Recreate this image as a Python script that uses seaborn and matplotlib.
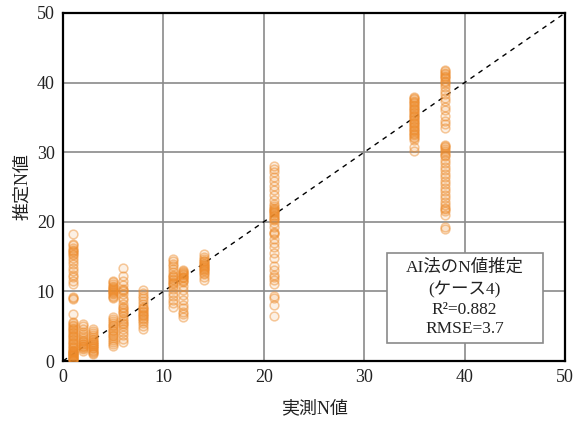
import matplotlib
matplotlib.use("Agg")
import matplotlib.pyplot as plt
import seaborn as sns
import pandas as pd
from matplotlib.patches import Rectangle

# measured N value groups and the estimated N values for each
n1 = [0.1, 0.2, 0.3, 0.4, 0.5, 0.6, 0.7, 0.8, 0.9, 1.0, 1.1, 1.2, 1.3, 1.4, 1.5, 1.6, 1.8, 2.0, 2.2, 2.4,
      2.6, 2.8, 3.0, 3.2, 3.4, 3.6, 3.8, 4.0, 4.2, 4.4, 4.6, 4.8, 5.0, 5.2, 5.4, 5.6, 6.8, 8.9, 9.1, 9.2,
      11.0, 11.5, 12.0, 12.4, 12.9, 13.4, 13.9, 14.3, 14.8, 15.2, 15.4, 15.6, 15.8, 16.0, 16.3, 16.6, 16.8,
      18.2]
n2 = [1.5, 1.7, 1.8, 2.0, 2.1, 2.2, 2.4, 2.5, 2.7, 2.9, 3.0, 3.3, 3.6, 3.9, 4.2, 4.6, 5.0, 5.3]
n3 = [1.0, 1.2, 1.3, 1.5, 1.6, 1.8, 1.9, 2.1, 2.2, 2.4, 2.5, 2.7, 2.8, 3.0, 3.1, 3.4, 3.7, 4.0, 4.3, 4.6]
n5 = [2.1, 2.4, 2.7, 3.0, 3.3, 3.6, 3.8, 4.0, 4.3, 4.5, 4.7, 5.0, 5.2, 5.4, 5.7, 6.0, 6.3, 9.0, 9.2,
      9.4, 9.6, 9.8, 9.9, 10.0, 10.2, 10.3, 10.5, 10.6, 10.8, 11.1, 11.3, 11.5]
n6 = [2.8, 3.2, 3.7, 4.1, 4.6, 5.0, 5.3, 5.5, 5.8, 6.0, 6.4, 6.9, 7.1, 7.3, 7.6, 7.8, 8.2, 8.7, 9.1, 9.6,
      10.0, 10.2, 10.4, 10.9, 11.5, 12.2, 13.4]
n8 = [4.6, 5.0, 5.4, 5.8, 6.0, 6.2, 6.4, 6.6, 6.8, 7.0, 7.2, 7.4, 7.6, 7.8, 8.2, 8.6, 9.0, 9.4, 9.8, 10.2]
n11 = [7.8, 8.3, 8.8, 9.3, 9.8, 10.3, 10.8, 11.0, 11.2, 11.4, 11.6, 11.8, 12.0, 12.2, 12.4, 12.8, 13.2,
       13.6, 14.0, 14.4, 14.7]
n12 = [6.3, 6.7, 7.1, 7.6, 8.0, 8.8, 9.5, 10.2, 10.8, 11.3, 11.5, 11.7, 11.9, 12.0, 12.1, 12.3, 12.5,
       12.6, 12.8, 12.9, 13.1]
n14 = [11.7, 12.1, 12.5, 12.7, 12.9, 13.1, 13.2, 13.4, 13.5, 13.7, 13.8, 14.0, 14.1, 14.3, 14.4, 14.7,
       15.0, 15.4]
n21 = [6.4, 8.0, 9.0, 9.3, 11.0, 11.6, 12.0, 12.4, 13.1, 13.6, 14.8, 15.5, 16.4, 17.0, 17.6, 18.2, 18.4,
       18.6, 19.2, 19.8, 20.2, 20.4, 20.6, 20.8, 21.0, 21.2, 21.4, 21.5, 21.7, 21.8, 22.0, 22.2, 22.6, 23.2,
       23.8, 24.5, 25.2, 25.8, 26.5, 27.2, 27.6, 28.0]
n35 = [30.2, 30.8, 31.8, 32.0, 32.2, 32.4, 32.6, 32.8, 33.0, 33.2, 33.4, 33.6, 33.8, 34.0, 34.2, 34.4,
       34.6, 34.8, 35.0, 35.2, 35.4, 35.6, 35.8, 36.0, 36.2, 36.4, 36.6, 36.8, 37.0, 37.2, 37.4, 37.6, 37.8,
       38.0]
n38 = [19.0, 19.2, 21.0, 21.5, 21.8, 22.0, 22.4, 22.9, 23.4, 23.9, 24.4, 24.9, 25.4, 25.9, 26.4, 26.9,
       27.4, 27.9, 28.4, 28.9, 29.4, 29.6, 29.9, 30.2, 30.4, 30.7, 30.9, 31.1, 33.5, 34.0, 34.5, 35.2, 36.0,
       36.5, 37.3, 37.8, 38.3, 38.8, 39.3, 39.8, 40.1, 40.3, 40.6, 40.8, 41.0, 41.2, 41.4, 41.6, 41.8]

groups = {1: n1, 2: n2, 3: n3, 5: n5, 6: n6, 8: n8, 11: n11, 12: n12, 14: n14, 21: n21, 35: n35, 38: n38}

ticks = [0, 10, 20, 30, 40, 50]
info_lines = ["AI法のN値推定", "(ケース4)", "R²=0.882", "RMSE=3.7"]

rows = [(x, y) for x, ys in groups.items() for y in ys]
df = pd.DataFrame(rows, columns=["実測N値", "推定N値"])

sns.set_style("white")
plt.rcParams["font.family"] = ["Liberation Serif", "Noto Sans CJK JP"]

fig = plt.figure(figsize=(5.79, 4.24), dpi=100)
ax = fig.add_axes([63 / 579, 1 - 361 / 424, 502 / 579, 348 / 424])

ax.set_xlim(0, 50)
ax.set_ylim(0, 50)
ax.set_xticks(ticks)
ax.set_yticks(ticks)
ax.grid(True, color="#8a8a8a", linewidth=1.2)
ax.set_axisbelow(True)

ax.plot([0, 50], [0, 50], linestyle=(0, (3.5, 3.5)), color="black", linewidth=1.0, zorder=2)

sns.scatterplot(data=df, x="実測N値", y="推定N値", ax=ax, marker="o", s=40,
                facecolor=(0.93, 0.54, 0.16, 0.12), edgecolor=(0.93, 0.54, 0.16, 0.45),
                linewidth=1.1, zorder=3)

for s in ax.spines.values():
    s.set_color("black")
    s.set_linewidth(1.6)

ax.tick_params(length=0, labelsize=13, pad=6, colors="#222222")
ax.set_xlabel("実測N値", fontsize=13, labelpad=10, color="#222222")
ax.set_ylabel("推定N値", fontsize=13, labelpad=4, color="#222222")

ax.add_patch(Rectangle((32.3, 2.6), 15.5, 12.9, facecolor="white", edgecolor="#8a8a8a",
                       linewidth=1.2, zorder=5))
for txt, yy in zip(info_lines, [13.4, 10.3, 7.3, 4.6]):
    ax.text(40.0, yy, txt, ha="center", va="center", fontsize=12.5, color="#222222", zorder=6)

fig.savefig("out.png", dpi=100)
